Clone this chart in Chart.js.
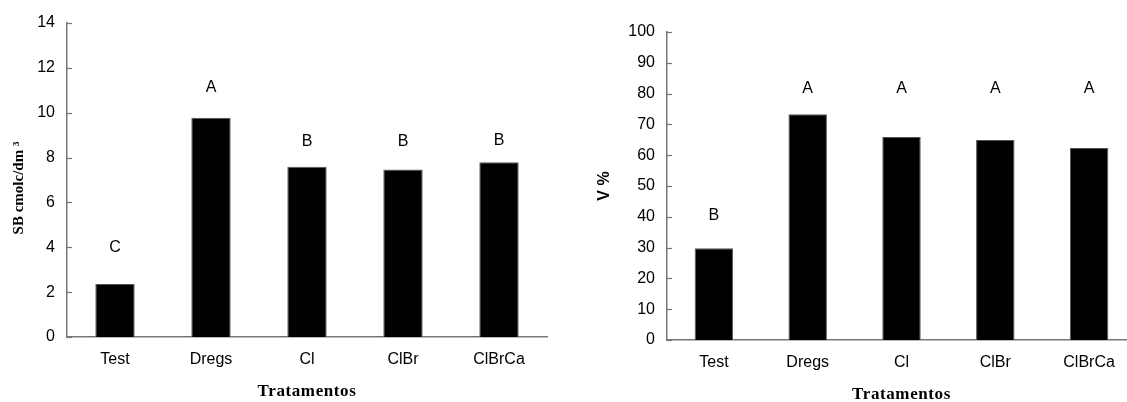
<!DOCTYPE html>
<html>
<head>
<meta charset="utf-8">
<script src="https://cdn.jsdelivr.net/npm/chart.js@4/dist/chart.umd.min.js"></script>
<style>
  html, body { margin: 0; padding: 0; background: #fff; width: 1127px; height: 402px; overflow: hidden; }
  #c1 { position: absolute; left: 0; top: 0; }
  #c2 { position: absolute; left: 560px; top: 0; }
</style>
</head>
<body>
<canvas id="c1" width="560" height="402"></canvas>
<canvas id="c2" width="576" height="402"></canvas>
<script>
// ---- data ----
const categories = ['Test', 'Dregs', 'Cl', 'ClBr', 'ClBrCa'];

const sbValues = [2.36, 9.77, 7.59, 7.47, 7.79];
const sbLetters = ['C', 'A', 'B', 'B', 'B'];
const sbLetterPos = [4.0, 11.1, 8.7, 8.7, 8.75];
const sbTickMax = 14;
const sbTickStep = 2;

const vValues = [29.8, 73.3, 65.9, 64.9, 62.3];
const vLetters = ['B', 'A', 'A', 'A', 'A'];
const vLetterPos = [40.5, 81.5, 81.5, 81.5, 81.5];
const vTickMax = 100;
const vTickStep = 10;

const xTitle = 'Tratamentos';
const sbTitle = 'SB cmolc/dm \u00B3';
const vTitle = 'V %';

// ---- styles ----
const SANS = "'Liberation Sans', Arial, sans-serif";
const SERIF = "'Liberation Serif', 'Times New Roman', serif";
const AXIS = '#777';

const decoPlugin = {
  id: 'deco',
  afterDraw(chart) {
    const o = chart.options.plugins.deco;
    const ctx = chart.ctx;
    const xs = chart.scales.x, ys = chart.scales.y;
    const area = chart.chartArea;
    ctx.save();
    // inside tick marks
    ctx.strokeStyle = AXIS;
    ctx.lineWidth = 1.2;
    ys.ticks.forEach(t => {
      const py = Math.round(ys.getPixelForValue(t.value)) + 0.5;
      ctx.beginPath();
      ctx.moveTo(area.left, py);
      ctx.lineTo(area.left + 5, py);
      ctx.stroke();
    });
    // letters
    ctx.fillStyle = '#000';
    ctx.font = '16px ' + SANS;
    ctx.textAlign = 'center';
    ctx.textBaseline = 'middle';
    o.letters.forEach((l, i) => {
      ctx.fillText(l, xs.getPixelForValue(i), ys.getPixelForValue(o.letterPos[i]));
    });
    // x title
    ctx.font = 'bold 17px ' + SERIF;
    if ('letterSpacing' in ctx) ctx.letterSpacing = '0.6px';
    ctx.fillText(xTitle, (area.left + area.right) / 2, area.bottom + o.xTitleDy);
    if ('letterSpacing' in ctx) ctx.letterSpacing = '0px';
    // y title
    ctx.font = o.yTitleFont;
    ctx.translate(o.yTitleX, (area.top + area.bottom) / 2 + o.yTitleDy);
    ctx.rotate(-Math.PI / 2);
    ctx.fillText(o.yTitle, 0, 0);
    ctx.restore();
  }
};

function makeChart(id, values, letters, letterPos, max, step, yWidth, xHeight, padding, deco) {
  return new Chart(document.getElementById(id), {
    type: 'bar',
    data: {
      labels: categories,
      datasets: [{
        data: values,
        backgroundColor: '#000',
        borderColor: '#555',
        borderWidth: 1,
        barPercentage: 0.41,
        categoryPercentage: 1.0
      }]
    },
    options: {
      responsive: false,
      animation: false,
      devicePixelRatio: 1,
      layout: { padding: padding },
      plugins: {
        legend: { display: false },
        tooltip: { enabled: false },
        deco: Object.assign({ letters: letters, letterPos: letterPos }, deco)
      },
      scales: {
        x: {
          grid: { display: false, drawTicks: false },
          border: { display: true, color: AXIS, width: 1.5 },
          ticks: { color: '#000', font: { family: SANS, size: 16 }, padding: 13, maxRotation: 0 },
          afterFit: s => { s.height = xHeight; }
        },
        y: {
          min: 0, max: max,
          grid: { display: false, drawTicks: false },
          border: { display: true, color: AXIS, width: 1.5 },
          ticks: { stepSize: step, color: '#000', font: { family: SANS, size: 16 }, padding: 12 },
          afterFit: s => { s.width = yWidth; }
        }
      }
    },
    plugins: [decoPlugin]
  });
}

makeChart('c1', sbValues, sbLetters, sbLetterPos, sbTickMax, sbTickStep, 67, 65,
  { top: 23, right: 13, left: 0, bottom: 0 },
  { yTitle: sbTitle, yTitleFont: 'bold 15px ' + SERIF, yTitleX: 19, yTitleDy: 8, xTitleDy: 55 });

makeChart('c2', vValues, vLetters, vLetterPos, vTickMax, vTickStep, 107, 62,
  { top: 32, right: 0, left: 0, bottom: 0 },
  { yTitle: vTitle, yTitleFont: 'bold 16px ' + SANS, yTitleX: 45, yTitleDy: 0, xTitleDy: 55 });
</script>
</body>
</html>
